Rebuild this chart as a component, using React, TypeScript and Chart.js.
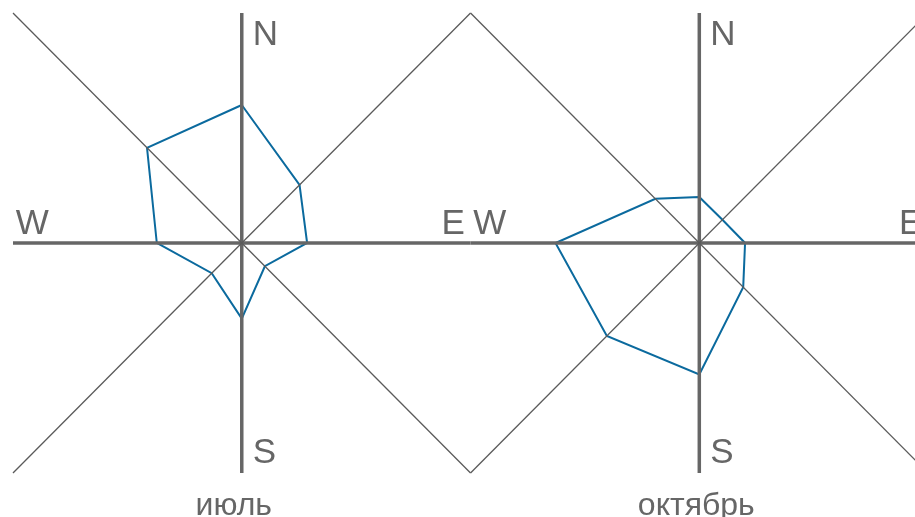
import React, { useEffect, useRef } from "react";
import { Chart, registerables } from "chart.js";

Chart.register(...registerables);

// Wind directions, clockwise from north
const directions = ["N", "NE", "E", "SE", "S", "SW", "W", "NW"];
// Share of each direction, %
const julyValues = [21, 12.5, 10, 5, 11.5, 6.5, 13, 20.5];
const octoberValues = [7, 5, 7, 9.5, 20, 20, 22, 9.5];
const months = ["июль", "октябрь"];
const compassLabels = ["N", "S", "W", "E"];

// Half-length of each compass axis, in %
const axisReach = 35;
// Distance between the two rose centres, in %
const panelSpacing = 70;

const axisColor = "#666666";
const diagColor = "#5a5a5a";
const roseColor = "#0b6a9e";

type Pt = { x: number; y: number };

function rosePoints(values: number[], cx: number): Pt[] {
  const pts = values.map((v, i) => {
    const a = (i * Math.PI) / 4;
    return { x: cx + v * Math.sin(a), y: v * Math.cos(a) };
  });
  pts.push(pts[0]);
  return pts;
}

function line(data: Pt[], color: string, width: number) {
  return {
    data,
    showLine: true,
    borderColor: color,
    backgroundColor: color,
    borderWidth: width,
    pointRadius: 0,
    pointHoverRadius: 0,
    fill: false,
    tension: 0,
    clip: false as const,
  };
}

function panelFrame(cx: number) {
  const r = axisReach;
  return [
    line([{ x: cx - r, y: r }, { x: cx + r, y: -r }], diagColor, 1.3),
    line([{ x: cx - r, y: -r }, { x: cx + r, y: r }], diagColor, 1.3),
    line([{ x: cx - r, y: 0 }, { x: cx + r, y: 0 }], axisColor, 3.5),
    line([{ x: cx, y: -r }, { x: cx, y: r }], axisColor, 3.5),
  ];
}

const labelPlugin = {
  id: "compassLabels",
  afterDatasetsDraw(chart: any) {
    const { ctx, scales } = chart;
    const xs = scales.x;
    const ys = scales.y;
    const centres = [0, panelSpacing];
    const monthShift = [-8, -3];
    ctx.save();
    ctx.fillStyle = axisColor;
    ctx.textBaseline = "alphabetic";
    centres.forEach((c, k) => {
      const cx = xs.getPixelForValue(c);
      const cy = ys.getPixelForValue(0);
      ctx.font = '35px "Liberation Sans", Arial, sans-serif';
      ctx.textAlign = "left";
      ctx.fillText(compassLabels[0], cx + 11, cy - 198);
      ctx.fillText(compassLabels[1], cx + 11, cy + 220);
      ctx.fillText(compassLabels[2], cx - 226, cy - 9);
      ctx.textAlign = "right";
      ctx.fillText(compassLabels[3], cx + 223, cy - 9);
      ctx.font = '32px "Liberation Sans", Arial, sans-serif';
      ctx.textAlign = "center";
      ctx.fillText(months[k], cx + monthShift[k], cy + 272);
    });
    ctx.restore();
  },
};

export default function App() {
  const canvasRef = useRef<HTMLCanvasElement>(null);

  useEffect(() => {
    if (!canvasRef.current) return;
    const chart = new Chart(canvasRef.current, {
      type: "scatter",
      data: {
        datasets: [
          ...panelFrame(0),
          ...panelFrame(panelSpacing),
          line(rosePoints(julyValues, 0), roseColor, 2),
          line(rosePoints(octoberValues, panelSpacing), roseColor, 2),
        ] as any,
      },
      options: {
        responsive: false,
        animation: false,
        devicePixelRatio: 1,
        layout: { padding: { left: 13, right: 0, top: 13, bottom: 44 } },
        scales: {
          x: { type: "linear", min: -axisReach, max: 103, display: false },
          y: { type: "linear", min: -axisReach, max: axisReach, display: false },
        },
        plugins: {
          legend: { display: false },
          tooltip: { enabled: false },
        },
        events: [],
      },
      plugins: [labelPlugin],
    });
    return () => chart.destroy();
  }, []);

  return (
    <div style={{ position: "fixed", left: 0, top: 0, width: 915, height: 517, background: "#fff" }}>
      <canvas ref={canvasRef} width={915} height={517} aria-label={directions.join(" ")} />
    </div>
  );
}
